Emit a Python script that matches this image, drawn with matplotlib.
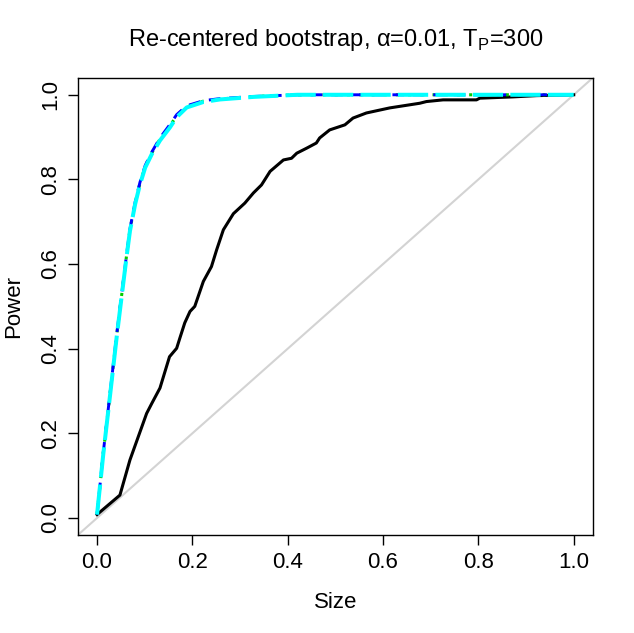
import matplotlib
matplotlib.use("Agg")
import matplotlib.pyplot as plt

# black: naive test
black_size = [0.0, 0.048, 0.069, 0.104, 0.115, 0.132, 0.152, 0.167, 0.174, 0.184,
              0.195, 0.205, 0.223, 0.240, 0.251, 0.265, 0.286, 0.310, 0.328, 0.345,
              0.363, 0.391, 0.408, 0.419, 0.440, 0.460, 0.467, 0.488, 0.520, 0.537,
              0.565, 0.614, 0.677, 0.691, 0.726, 0.796, 0.803, 0.872, 0.922, 1.0]
black_power = [0.008, 0.054, 0.137, 0.247, 0.271, 0.307, 0.381, 0.401, 0.426, 0.461,
               0.488, 0.500, 0.559, 0.594, 0.634, 0.681, 0.719, 0.744, 0.768, 0.787,
               0.819, 0.846, 0.850, 0.862, 0.874, 0.886, 0.898, 0.917, 0.929, 0.945,
               0.957, 0.969, 0.980, 0.984, 0.988, 0.988, 0.992, 0.995, 0.998, 1.0]

# coloured: re-centered bootstrap variants
boot_size = [0.0, 0.013, 0.027, 0.041, 0.052, 0.062, 0.069, 0.080, 0.090, 0.101,
             0.115, 0.132, 0.153, 0.167, 0.188, 0.223, 0.258, 0.328, 0.42, 1.0]
green_power = [0.008, 0.153, 0.290, 0.430, 0.530, 0.621, 0.681, 0.745, 0.791, 0.831,
               0.863, 0.895, 0.927, 0.950, 0.972, 0.985, 0.990, 0.996, 1.0, 1.0]
blue_power = [0.008, 0.154, 0.292, 0.432, 0.532, 0.623, 0.683, 0.747, 0.793, 0.833,
              0.865, 0.898, 0.930, 0.953, 0.974, 0.986, 0.991, 0.996, 1.0, 1.0]
cyan_power = [0.008, 0.150, 0.287, 0.426, 0.527, 0.618, 0.678, 0.742, 0.788, 0.828,
              0.860, 0.892, 0.923, 0.947, 0.970, 0.983, 0.989, 0.995, 1.0, 1.0]

ticks = [0.0, 0.2, 0.4, 0.6, 0.8, 1.0]
tick_labels = ["0.0", "0.2", "0.4", "0.6", "0.8", "1.0"]

plt.rcParams["font.family"] = ["Liberation Sans", "DejaVu Sans"]
plt.rcParams["mathtext.fontset"] = "custom"
plt.rcParams["mathtext.rm"] = "Liberation Sans"

fig = plt.figure(figsize=(6.34, 6.33), dpi=100)
ax = fig.add_axes([0.123, 0.155, 0.812, 0.722])

ax.axline((0, 0), slope=1, color="#D3D3D3", lw=1.5, zorder=1)
ax.plot(black_size, black_power, color="black", lw=2.2, zorder=2)
ax.plot(boot_size, green_power, color="#00CD00", lw=2.2, ls=(0, (1, 3)), zorder=3)
ax.plot(boot_size, blue_power, color="#0000FF", lw=2.1, ls=(0, (4, 3)), zorder=4)
ax.plot(boot_size, cyan_power, color="#00FFFF", lw=2.9, ls=(0, (7.5, 1.8)), zorder=5)

ax.set_xlim(-0.04, 1.04)
ax.set_ylim(-0.04, 1.04)
ax.set_xticks(ticks)
ax.set_xticklabels(tick_labels)
ax.set_yticks(ticks)
ax.set_yticklabels(tick_labels, rotation=90, va="center")
ax.tick_params(direction="out", length=7, width=1, labelsize=16, pad=5)
for s in ax.spines.values():
    s.set_linewidth(1)

ax.set_xlabel("Size", fontsize=16, labelpad=14)
ax.set_ylabel("Power", fontsize=16, labelpad=12)
fig.text(0.53, 0.937, "Re-centered bootstrap, \u03b1=0.01, T$_{\\mathrm{P}}$=300",
         ha="center", va="center", fontsize=17)

fig.savefig("out.png", dpi=100)
